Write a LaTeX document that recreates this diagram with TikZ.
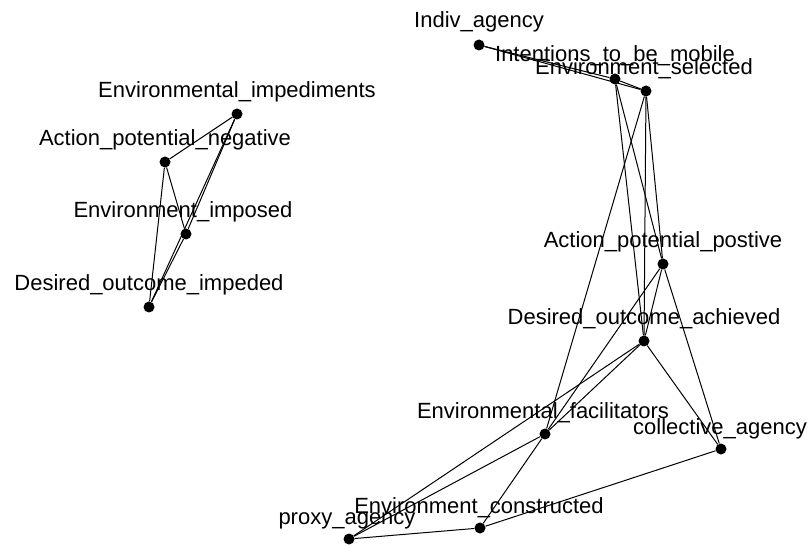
\documentclass[tikz,border=0pt]{standalone}
\usepackage{fontspec}
\setmainfont{Liberation Sans}
\usetikzlibrary{calc}
\begin{document}
\begin{tikzpicture}[x=1pt,y=-1pt,
  dot/.style={circle,fill=black,inner sep=0pt,minimum size=11pt},
  lbl/.style={anchor=base,inner sep=0pt,font=\fontsize{22}{24}\selectfont},
  edge/.style={line width=1pt,black}]
\useasboundingbox (0,0) rectangle (809,545);
% left cluster
\node[dot] (EI)   at (237,114) {};
\node[dot] (APN)  at (165,162) {};
\node[dot] (EImp) at (186,234) {};
\node[dot] (DOI)  at (149,307) {};
% right cluster
\node[dot] (IA)  at (479,45) {};
\node[dot] (INT) at (615,79) {};
\node[dot] (ES)  at (646,91) {};
\node[dot] (APP) at (663,264) {};
\node[dot] (DOA) at (644,341) {};
\node[dot] (EF)  at (545,434) {};
\node[dot] (CA)  at (721,449) {};
\node[dot] (EC)  at (480,528) {};
\node[dot] (PA)  at (349,539) {};
% edges
\foreach \a/\b in {APN/EI,APN/EImp,APN/DOI,EI/EImp,EI/DOI,EImp/DOI,
  IA/INT,IA/ES,INT/ES,INT/DOA,INT/APP,ES/EF,ES/DOA,ES/APP,
  APP/DOA,APP/EF,APP/CA,DOA/EF,DOA/PA,DOA/CA,EF/PA,EF/EC,PA/EC,EC/CA}
  \draw[edge] (\a) -- (\b);
% labels
\node[lbl] (tEI)   at ($(EI)+(0,-16)$) {Environmental\_impediments};
\node[lbl] (tAPN)  at ($(APN)+(0,-16)$) {Action\_potential\_negative};
\node[lbl] (tEImp) at ($(EImp)+(-3,-16)$) {Environment\_imposed};
\node[lbl] (tDOI)  at ($(DOI)+(0,-16)$) {Desired\_outcome\_impeded};
\node[lbl] (tIA)   at ($(IA)+(0,-17)$) {Indiv\_agency};
\node[lbl] (tINT)  at ($(INT)+(0,-17)$) {Intentions\_to\_be\_mobile};
\node[lbl] (tES)   at ($(ES)+(-2,-16)$) {Environment\_selected};
\node[lbl] (tAPP)  at ($(APP)+(0,-16)$) {Action\_potential\_postive};
\node[lbl] (tDOA)  at ($(DOA)+(0,-16)$) {Desired\_outcome\_achieved};
\node[lbl] (tEF)   at ($(EF)+(-2,-16)$) {Environmental\_facilitators};
\node[lbl] (tCA)   at ($(CA)+(-1,-15)$) {collective\_agency};
\node[lbl] (tEC)   at ($(EC)+(-1,-15)$) {Environment\_constructed};
\node[lbl] (tPA)   at ($(PA)+(-2,-15)$) {proxy\_agency};
\end{tikzpicture}
\end{document}
